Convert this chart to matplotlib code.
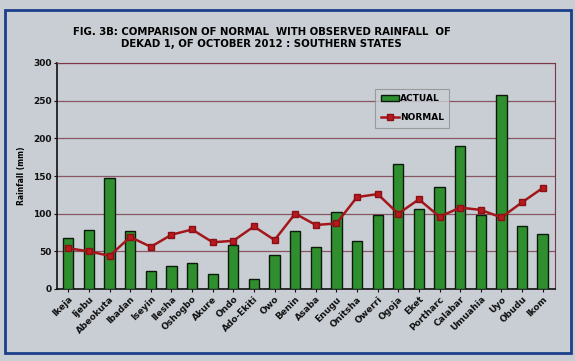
import matplotlib
matplotlib.use("Agg")
import matplotlib.pyplot as plt
import numpy as np
from matplotlib.patches import Rectangle

stations = ["Ikeja", "Ijebu", "Abeokuta", "Ibadan", "Iseyin", "Ilesha", "Oshogbo",
            "Akure", "Ondo", "Ado-Ekiti", "Owo", "Benin", "Asaba", "Enugu",
            "Onitsha", "Owerri", "Ogoja", "Eket", "Portharc", "Calabar",
            "Umuahia", "Uyo", "Obudu", "Ikom"]
actual = [68, 78, 148, 77, 24, 30, 35, 20, 58, 13, 45, 77,
          56, 102, 64, 98, 166, 106, 135, 190, 98, 258, 84, 73]
normal = [54, 50, 44, 69, 56, 72, 79, 62, 64, 83, 65, 100,
          85, 87, 122, 126, 100, 119, 96, 108, 105, 95, 115, 134]
yticks = [0, 50, 100, 150, 200, 250, 300]

bg = "#c9ced4"
fig = plt.figure(figsize=(5.75, 3.61), dpi=100, facecolor=bg)
W, H = 575, 361
ax = fig.add_axes([57 / W, 1 - 289 / H, (555 - 57) / W, (289 - 63) / H])
ax.set_facecolor(bg)

# outer frame
fig.patches.append(Rectangle((5 / W, 8 / H), 566 / W, 343 / H, transform=fig.transFigure,
                             fill=False, edgecolor="#1c3f8a", linewidth=2.0))

x = np.arange(len(stations))
bars = ax.bar(x, actual, width=0.5, color="#2f8f2f", edgecolor="#0b1a0b", linewidth=1.0,
              label="ACTUAL", zorder=3)
line, = ax.plot(x, normal, color="#a3171b", linewidth=1.8, marker="s", markersize=4.5,
                markerfacecolor="#b81a1e", markeredgecolor="#8a1015", label="NORMAL", zorder=4)

ax.set_ylim(0, 300)
ax.set_xlim(-0.55, len(stations) - 0.4)
ax.set_yticks(yticks)
ax.set_yticklabels([str(v) for v in yticks], fontsize=6.5, fontweight="heavy")
ax.set_xticks(x)
ax.set_xticklabels(stations, rotation=45, ha="right", rotation_mode="anchor",
                   fontsize=6.5, fontweight="heavy")
ax.tick_params(axis="both", length=2, pad=2, colors="#111111")
ax.yaxis.grid(True, color="#7a3845", linewidth=0.9, alpha=0.8, zorder=0)
ax.set_axisbelow(True)
for s in ["top", "right"]:
    ax.spines[s].set_color("#7a3845")
    ax.spines[s].set_linewidth(0.8)
for s in ["left", "bottom"]:
    ax.spines[s].set_color("#111111")
    ax.spines[s].set_linewidth(1.2)

ax.set_ylabel("Rainfall (mm)", fontsize=5.5, fontweight="heavy", labelpad=5)

leg = ax.legend([bars, line], ["ACTUAL", "NORMAL"], loc="upper left",
                bbox_to_anchor=(0.63, 0.905),
                prop={"weight": "heavy", "size": 6.5}, frameon=True, fancybox=False,
                edgecolor="#8e8e8e", facecolor=bg, handlelength=2.0,
                borderpad=0.6, labelspacing=1.1, handletextpad=0.1)
leg.get_frame().set_linewidth(0.8)

fig.text(0.455, 1 - 38 / H,
         "FIG. 3B: COMPARISON OF NORMAL  WITH OBSERVED RAINFALL  OF\nDEKAD 1, OF OCTOBER 2012 : SOUTHERN STATES",
         ha="center", va="center", fontsize=7.3, fontweight="heavy", linespacing=1.15)

fig.savefig("out.png", dpi=100, facecolor=bg)
